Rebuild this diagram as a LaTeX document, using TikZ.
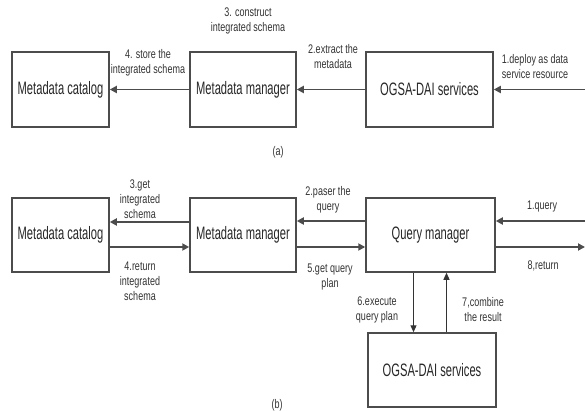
\documentclass[tikz,border=0pt]{standalone}
\usepackage{fontspec}
\newfontfamily\boxfont{Liberation Sans}[FakeStretch=0.62]
\newfontfamily\lblfont{Liberation Sans}[FakeStretch=0.72]
\usetikzlibrary{arrows.meta, positioning}

\tikzset{
  block/.style={draw=black!70, line width=1.5pt, text=black!85,
    font=\boxfont\fontsize{18}{20}\selectfont, inner sep=0pt},
  flow/.style={draw=black!70, line width=1.8pt,
    -{Triangle[length=7pt,width=7pt]}},
  thinflow/.style={draw=black!80, line width=1.2pt,
    -{Triangle[length=7pt,width=6pt]}},
  lbl/.style={align=center, text=black!80, inner sep=0pt,
    font=\lblfont\fontsize{12.5}{15}\selectfont}
}

\begin{document}
\begin{tikzpicture}[x=1pt,y=-1pt]
\useasboundingbox (0,0) rectangle (585,411);

% (a) building the metadata
\node[block, minimum width=97pt, minimum height=75pt] (catA) at (60.5,89.5) {Metadata catalog};
\node[block, minimum width=106pt, minimum height=75pt] (mgrA) at (243,89.5) {Metadata manager};
\node[block, minimum width=127pt, minimum height=75pt] (ogsaA) at (429.5,89.5) {OGSA-DAI services};
\coordinate (inA) at (585,89.5);

\draw[flow] (mgrA.west) -- (catA.east);
\draw[flow] (ogsaA.west) -- (mgrA.east);
\draw[flow] (inA) -- (ogsaA.east);

\node[lbl] at (248,21) {3. construct\\integrated schema};
\node[lbl] at (148,63) {4. store the\\integrated schema};
\node[lbl] at (333,57) {2.extract the\\metadata};
\node[lbl] at (535,67) {1.deploy as data\\service resource};
\node[lbl] at (278,152) {(a)};

% (b) answering a query
\node[block, minimum width=97pt, minimum height=74pt] (catB) at (60.5,235) {Metadata catalog};
\node[block, minimum width=106pt, minimum height=74pt] (mgrB) at (243,235) {Metadata manager};
\node[block, minimum width=129pt, minimum height=74pt] (qry) at (430.5,235) {Query manager};
\node[block, minimum width=128pt, minimum height=74pt] (ogsaB) at (432,370) {OGSA-DAI services};
\coordinate (inB) at (585,221);
\coordinate (outB) at (585,247);

\draw[flow] ([yshift=13pt]mgrB.west) -- ([yshift=13pt]catB.east);
\draw[flow] ([yshift=-12pt]catB.east) -- ([yshift=-12pt]mgrB.west);
\draw[flow] ([yshift=14pt]qry.west) -- ([yshift=14pt]mgrB.east);
\draw[flow] ([yshift=-12pt]mgrB.east) -- ([yshift=-12pt]qry.west);
\draw[flow] (inB) -- (inB -| qry.east);
\draw[flow] (outB -| qry.east) -- (outB);
\draw[thinflow] ([xshift=-17pt]qry.south) -- ([xshift=-17pt]qry.south |- ogsaB.north);
\draw[thinflow] ([xshift=16pt]qry.south |- ogsaB.north) -- ([xshift=16pt]qry.south);

\node[lbl] at (140,199) {3.get\\integrated\\schema};
\node[lbl] at (140,281) {4.return\\integrated\\schema};
\node[lbl] at (328,199.5) {2.paser the\\query};
\node[lbl] at (330,276.5) {5.get query\\plan};
\node[lbl] at (542,206) {1.query};
\node[lbl] at (543,266) {8,return};
\node[lbl] at (377,309.5) {6.execute\\query plan};
\node[lbl] at (483,309.5) {7,combine\\the result};
\node[lbl] at (277,405) {(b)};
\end{tikzpicture}
\end{document}
